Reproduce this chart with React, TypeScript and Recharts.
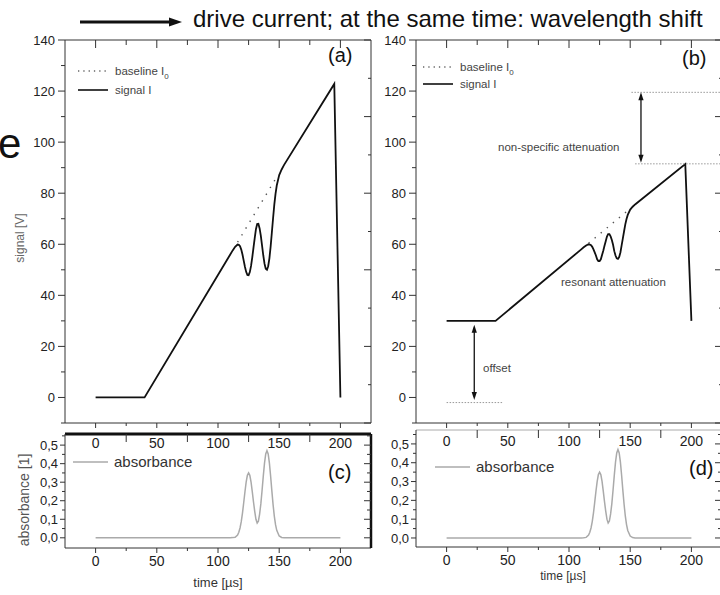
import { LineChart, Line, XAxis, YAxis, ReferenceLine, Legend } from 'recharts';

const FONT = '"Liberation Sans", Arial, Helvetica, sans-serif';

// ---- values ----
// time axis in µs (dense around the two absorption lines)
const time = [
  0, 40, 110, 112, 114, 116, 117, 118, 119, 120, 121, 122, 123, 124, 125, 126, 127, 128, 129, 130,
  131, 132, 133, 134, 135, 136, 137, 138, 139, 140, 141, 142, 143, 144, 145, 146, 147, 148, 150, 152,
  154, 195, 200,
];

// (a) signal I [V]
const signalA = [
  0, 0, 56.0, 57.6, 59.0, 59.9, 59.8, 59.2, 57.9, 56.0, 53.6, 51.2, 49.2, 48.0, 47.9, 49.1, 51.5, 54.9,
  58.7, 62.4, 65.9, 67.9, 68.0, 66.2, 63.3, 59.5, 55.6, 52.4, 50.4, 50.0, 51.4, 54.5, 59.1, 64.6, 70.2,
  75.5, 79.7, 83.0, 87.1, 89.3, 91.1, 122.8, 0,
];

// (b) signal I with offset and non-specific attenuation [V]
const signalB = [
  30, 30, 58.0, 58.8, 59.5, 60.0, 59.9, 59.6, 59.0, 58.0, 56.8, 55.6, 54.1, 53.4, 53.4, 54.1, 55.8, 57.5,
  59.4, 61.2, 63.0, 64.0, 64.0, 63.1, 61.7, 59.8, 57.3, 55.6, 54.5, 54.3, 55.0, 56.8, 59.6, 62.3, 65.1,
  67.8, 69.9, 71.5, 73.6, 74.7, 75.6, 91.4, 30,
];

// (c) / (d) absorbance [1]
const absorbance = [
  0, 0, 0, 0.001, 0.003, 0.015, 0.03, 0.053, 0.087, 0.133, 0.189, 0.247, 0.3, 0.337, 0.35, 0.337, 0.301,
  0.249, 0.193, 0.143, 0.1, 0.08, 0.09, 0.128, 0.183, 0.255, 0.333, 0.403, 0.452, 0.47, 0.452, 0.403,
  0.332, 0.253, 0.179, 0.117, 0.071, 0.04, 0.01, 0.002, 0, 0, 0,
];

// dotted baseline I0, only where it separates from the signal
const baseTimeA = [116, 149];
const baselineA = [60.8, 87.2];
const baseTimeB = [116, 148];
const baselineB = [60.4, 73.2];

// ticks
const timeTicks = [0, 25, 50, 75, 100, 125, 150, 175, 200];
const signalTicks = [-10, 0, 10, 20, 30, 40, 50, 60, 70, 80, 90, 100, 110, 120, 130, 140];
const signalRightTicks = [-10, 5, 20, 35, 50, 65, 80, 95, 110, 125, 140];
const absTicks = [0, 0.05, 0.1, 0.15, 0.2, 0.25, 0.3, 0.35, 0.4, 0.45, 0.5, 0.55];

// (b) annotation guides: [t, V]
const nonSpecificTop = [[151, 119.5], [225, 119.5]];
const nonSpecificBottom = [[154, 91.5], [225, 91.5]];
const nonSpecificArrow = [[158.8, 119.5], [158.8, 91.9]];
const offsetGuide = [[0, -2], [46, -2]];
const offsetArrow = [[22.6, 28.5], [22.6, -1]];

const pairs = (xs: number[], ys: number[]) => xs.map((t, i) => ({ t, v: ys[i] }));
const seg = (p: number[][]) => p.map(([x, y]) => ({ x, y }));

const AXIS = { stroke: '#333', strokeWidth: 1 };

type TickCfg = {
  side: 'left' | 'right' | 'top' | 'bottom';
  major: (v: number) => boolean;
  label?: (v: number) => boolean;
  majorLen: number;
  minorLen: number;
  inward?: boolean;
  fmt?: (v: number) => string;
  size?: number;
  off?: number;
};

// tickSize and tickMargin are 0, so (x, y) is the point on the axis line
const makeTick = (c: TickCfg) => (props: any) => {
  const { x, y, payload } = props;
  const v = payload.value;
  const len = c.major(v) ? c.majorLen : c.minorLen;
  const d = c.inward ? -1 : 1;
  const txt = c.label && c.label(v) ? (c.fmt ? c.fmt(v) : String(v)) : null;
  const fs = c.size || 13;
  const off = c.off || 9;
  let line;
  let text = null;
  if (c.side === 'left') {
    line = <line x1={x} y1={y} x2={x - d * len} y2={y} stroke="#333" />;
    if (txt) text = <text x={x - off} y={y + fs * 0.36} textAnchor="end" fontSize={fs} fill="#222" fontFamily={FONT}>{txt}</text>;
  } else if (c.side === 'right') {
    line = <line x1={x} y1={y} x2={x + d * len} y2={y} stroke="#333" />;
  } else if (c.side === 'top') {
    line = <line x1={x} y1={y} x2={x} y2={y - d * len} stroke="#333" />;
  } else {
    line = <line x1={x} y1={y} x2={x} y2={y + d * len} stroke="#333" />;
    if (txt) text = <text x={x} y={y + off} textAnchor="middle" fontSize={fs} fill="#222" fontFamily={FONT}>{txt}</text>;
  }
  return (
    <g>
      {len > 0 && line}
      {text}
    </g>
  );
};

const isMult = (v: number, m: number) => Math.abs(v / m - Math.round(v / m)) < 1e-6;
const comma = (v: number) => v.toFixed(1).replace('.', ',');

const DoubleArrow = (p: any) => {
  const x = p.x1;
  const top = Math.min(p.y1, p.y2);
  const bot = Math.max(p.y1, p.y2);
  return (
    <g>
      <line x1={x} y1={top + 3} x2={x} y2={bot - 3} stroke="#111" strokeWidth={1.3} />
      <path d={`M${x - 2.6},${top + 8} L${x},${top} L${x + 2.6},${top + 8} Z`} fill="#111" />
      <path d={`M${x - 2.6},${bot - 8} L${x},${bot} L${x + 2.6},${bot - 8} Z`} fill="#111" />
    </g>
  );
};

const SignalLegend = (gap: number) => (props: any) => {
  const items = props.payload || [];
  return (
    <svg width={130} height={gap + 16} style={{ overflow: 'visible' }}>
      {items.map((it: any, i: number) => {
        const [main, sub] = String(it.value).split('_');
        const y = 7 + i * gap;
        const dotted = String(it.value).startsWith('baseline');
        return (
          <g key={i}>
            <line x1={0} y1={y} x2={30} y2={y} stroke={dotted ? '#666' : '#111'} strokeWidth={dotted ? 1.3 : 1.6} strokeDasharray={dotted ? '1.3 4' : undefined} />
            <text x={37} y={y + 4} fontSize={11.5} fill="#444" fontFamily={FONT}>
              {main}
              {sub && <tspan dy={4} fontSize={8}>{sub}</tspan>}
            </text>
          </g>
        );
      })}
    </svg>
  );
};

const AbsLegend = (props: any) => {
  const items = props.payload || [];
  return (
    <svg width={130} height={20} style={{ overflow: 'visible' }}>
      {items.map((it: any, i: number) => (
        <g key={i}>
          <line x1={0} y1={8} x2={35} y2={8} stroke="#aaa" strokeWidth={1.5} />
          <text x={41} y={13} fontSize={15} fill="#333" fontFamily={FONT}>{it.value}</text>
        </g>
      ))}
    </svg>
  );
};

type Margin = { top: number; left: number; right: number; bottom: number };

// axes are 1px thick (0 is not drawn), so the margins are the plot edges minus 1
const inner = (m: Margin): Margin => ({ top: m.top - 1, left: m.left - 1, right: m.right - 1, bottom: m.bottom - 1 });

type SignalProps = {
  left: number;
  width: number;
  margin: Margin;
  signal: number[];
  baseT: number[];
  baseV: number[];
  labelOff: number;
  legendPos: { left: number; top: number };
  legendGap: number;
  annotate?: boolean;
};

function SignalPanel(p: SignalProps) {
  return (
    <div style={{ position: 'absolute', left: p.left, top: 0 }}>
      <LineChart width={p.width} height={470} margin={inner(p.margin)}>
        <XAxis xAxisId="b" type="number" dataKey="t" domain={[-25, 225]} allowDataOverflow ticks={timeTicks} interval={0} height={1}
          tickSize={0} tickMargin={0} tickLine={false} axisLine={AXIS}
          tick={makeTick({ side: 'bottom', major: (v) => isMult(v, 50), label: (v) => isMult(v, 50), majorLen: 5, minorLen: 3, size: 14, off: p.labelOff })} />
        <XAxis xAxisId="t" orientation="top" type="number" dataKey="t" domain={[-25, 225]} allowDataOverflow ticks={timeTicks} interval={0} height={1}
          tickSize={0} tickMargin={0} tickLine={false} axisLine={AXIS}
          tick={makeTick({ side: 'top', major: (v) => isMult(v, 50), majorLen: 8, minorLen: 5, inward: true })} />
        <YAxis yAxisId="l" type="number" domain={[-10, 140]} allowDataOverflow ticks={signalTicks} interval={0} width={1}
          tickSize={0} tickMargin={0} tickLine={false} axisLine={AXIS}
          tick={makeTick({ side: 'left', major: (v) => isMult(v, 20), label: (v) => isMult(v, 20) && v >= 0, majorLen: 7, minorLen: 4, size: 13, off: 10 })} />
        <YAxis yAxisId="r" orientation="right" type="number" domain={[-10, 140]} allowDataOverflow ticks={signalRightTicks} interval={0} width={1}
          tickSize={0} tickMargin={0} tickLine={false} axisLine={AXIS}
          tick={makeTick({ side: 'right', major: (v) => isMult(v - 20, 30), majorLen: 7, minorLen: 3, inward: true })} />
        <Legend layout="horizontal" verticalAlign="middle" content={SignalLegend(p.legendGap)}
          wrapperStyle={{ left: p.legendPos.left, top: p.legendPos.top, width: 130, height: 40 }} />
        <Line xAxisId="b" yAxisId="l" data={pairs(p.baseT, p.baseV)} dataKey="v" name="baseline I_0" type="linear"
          stroke="#555" strokeWidth={1.4} strokeDasharray="1.4 6.5" dot={false} isAnimationActive={false} />
        <Line xAxisId="b" yAxisId="l" data={pairs(time, p.signal)} dataKey="v" name="signal I" type="linear"
          stroke="#111" strokeWidth={1.8} dot={false} isAnimationActive={false} />
        {p.annotate && (
          <ReferenceLine xAxisId="b" yAxisId="l" segment={seg(nonSpecificTop)} stroke="#999" strokeDasharray="1.5 1.5" />
        )}
        {p.annotate && (
          <ReferenceLine xAxisId="b" yAxisId="l" segment={seg(nonSpecificBottom)} stroke="#999" strokeDasharray="1.5 1.5" />
        )}
        {p.annotate && (
          <ReferenceLine xAxisId="b" yAxisId="l" segment={seg(offsetGuide)} stroke="#999" strokeDasharray="1.5 1.5" />
        )}
        {p.annotate && <ReferenceLine xAxisId="b" yAxisId="l" segment={seg(nonSpecificArrow)} shape={DoubleArrow} />}
        {p.annotate && <ReferenceLine xAxisId="b" yAxisId="l" segment={seg(offsetArrow)} shape={DoubleArrow} />}
      </LineChart>
    </div>
  );
}

type AbsProps = {
  left: number;
  width: number;
  margin: Margin;
  domain: [number, number];
  topAxis: { stroke: string; strokeWidth: number };
  rightAxis: { stroke: string; strokeWidth: number };
  legendPos: { left: number; top: number };
};

function AbsPanel(p: AbsProps) {
  return (
    <div style={{ position: 'absolute', left: p.left, top: 420 }}>
      <LineChart width={p.width} height={175} margin={inner(p.margin)}>
        <XAxis xAxisId="b" type="number" dataKey="t" domain={[-25, 225]} allowDataOverflow ticks={timeTicks} interval={0} height={1}
          tickSize={0} tickMargin={0} tickLine={false} axisLine={AXIS}
          tick={makeTick({ side: 'bottom', major: (v) => isMult(v, 50), label: (v) => isMult(v, 50), majorLen: 5, minorLen: 3, size: 14, off: 18 })} />
        <XAxis xAxisId="t" orientation="top" type="number" dataKey="t" domain={[-25, 225]} allowDataOverflow ticks={timeTicks} interval={0} height={1}
          tickSize={0} tickMargin={0} tickLine={false} axisLine={p.topAxis}
          tick={makeTick({ side: 'top', major: (v) => isMult(v, 50), majorLen: 0, minorLen: 8, inward: true })} />
        <YAxis yAxisId="l" type="number" domain={p.domain} allowDataOverflow ticks={absTicks} interval={0} width={1}
          tickSize={0} tickMargin={0} tickLine={false} axisLine={AXIS}
          tick={makeTick({ side: 'left', major: (v) => isMult(v, 0.1), label: (v) => isMult(v, 0.1) && v < 0.52, majorLen: 5, minorLen: 3, size: 13, off: 7, fmt: comma })} />
        <YAxis yAxisId="r" orientation="right" type="number" domain={p.domain} allowDataOverflow ticks={absTicks} interval={0} width={1}
          tickSize={0} tickMargin={0} tickLine={false} axisLine={p.rightAxis}
          tick={makeTick({ side: 'right', major: (v) => isMult(v, 0.1), majorLen: 7, minorLen: 4, inward: true })} />
        <Legend layout="horizontal" verticalAlign="middle" content={AbsLegend}
          wrapperStyle={{ left: p.legendPos.left, top: p.legendPos.top, width: 130, height: 20 }} />
        <Line xAxisId="b" yAxisId="l" data={pairs(time, absorbance)} dataKey="v" name="absorbance" type="linear"
          stroke="#aaa" strokeWidth={1.5} dot={false} isAnimationActive={false} />
      </LineChart>
    </div>
  );
}

export default function App() {
  return (
    <div style={{ position: 'absolute', left: 0, top: 0, width: 720, height: 595, overflow: 'hidden', background: '#fff', fontFamily: FONT }}>
      <SignalPanel left={0} width={380} margin={{ top: 40, left: 65, right: 9, bottom: 47 }} signal={signalA}
        baseT={baseTimeA} baseV={baselineA} labelOff={25} legendPos={{ left: 78, top: 64 }} legendGap={19} />
      <SignalPanel left={380} width={360} margin={{ top: 40, left: 36, right: 18, bottom: 47 }} signal={signalB}
        baseT={baseTimeB} baseV={baselineB} labelOff={23} legendPos={{ left: 43, top: 60 }} legendGap={17} annotate />
      <AbsPanel left={0} width={380} margin={{ top: 14, left: 65, right: 9, bottom: 47 }} domain={[-0.055, 0.56]}
        topAxis={{ stroke: '#111', strokeWidth: 3 }} rightAxis={{ stroke: '#111', strokeWidth: 2.5 }} legendPos={{ left: 73, top: 34 }} />
      <AbsPanel left={380} width={360} margin={{ top: 10, left: 36, right: 18, bottom: 48 }} domain={[-0.048, 0.574]}
        topAxis={{ stroke: '#aaa', strokeWidth: 1 }} rightAxis={AXIS} legendPos={{ left: 55, top: 39 }} />

      <svg width={720} height={595} style={{ position: 'absolute', left: 0, top: 0, pointerEvents: 'none' }} fontFamily={FONT}>
        <line x1={80} y1={22} x2={172} y2={22} stroke="#111" strokeWidth={3} />
        <path d="M169,17.5 L182,22 L169,26.5 Z" fill="#111" />
        <text x={193} y={27} fontSize={24} fill="#111">drive current; at the same time: wavelength shift</text>
        <text x={-2} y={158} fontSize={42} fill="#111">e</text>

        <text x={328} y={62} fontSize={20} fill="#111">(a)</text>
        <text x={682} y={65} fontSize={20} fill="#111">(b)</text>
        <text x={328} y={479} fontSize={20} fill="#111">(c)</text>
        <text x={689} y={475} fontSize={20} fill="#111">(d)</text>

        <text transform="translate(24,238) rotate(-90)" fontSize={12} fill="#666" textAnchor="middle">signal [V]</text>
        <text transform="translate(29,500) rotate(-90)" fontSize={14} fill="#555" textAnchor="middle">absorbance [1]</text>
        <text x={218} y={587} fontSize={13} fill="#333" textAnchor="middle">time [µs]</text>
        <text x={563} y={580} fontSize={12} fill="#333" textAnchor="middle">time [µs]</text>

        <text x={498} y={151} fontSize={11.5} fill="#444">non-specific attenuation</text>
        <text x={561} y={286} fontSize={11.5} fill="#444">resonant attenuation</text>
        <text x={483} y={372} fontSize={11.5} fill="#444">offset</text>
      </svg>
    </div>
  );
}
